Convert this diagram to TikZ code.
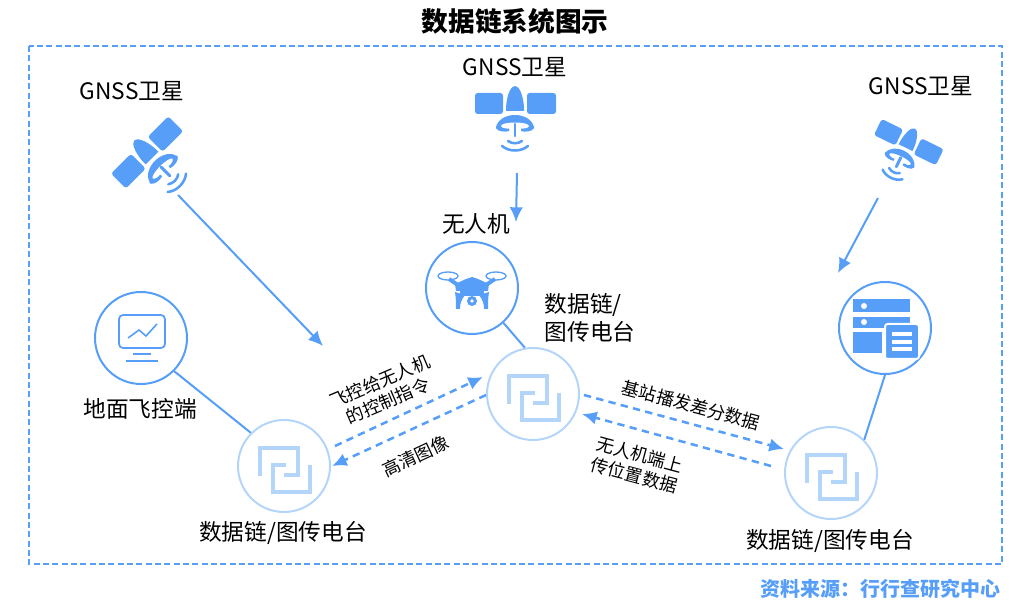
\documentclass[tikz,border=0pt]{standalone}
\usepackage{fontspec}
\setmainfont{Noto Sans CJK SC}
\usepackage{tikz}
\usetikzlibrary{arrows.meta}

\definecolor{linkblue}{HTML}{569EF8}
\definecolor{paleblue}{HTML}{B4D5FA}

\tikzset{
    lbl/.style={inner sep=0pt, align=center, font=\fontsize{17}{21}\selectfont},
    smalllbl/.style={inner sep=0pt, align=center, font=\fontsize{13.3}{16}\selectfont},
    hub/.style={circle, draw=linkblue, line width=1.5pt, minimum size=69pt, inner sep=0pt},
    radio/.style={circle, draw=paleblue, line width=1.5pt, minimum size=69pt, inner sep=0pt},
    wire/.style={draw=linkblue, line width=1.5pt},
    ray/.style={draw=linkblue, line width=1.5pt, -{Latex[length=11pt,width=10pt]}},
    flow/.style={draw=linkblue, line width=1.9pt, dash pattern=on 5.5pt off 4pt, -{Latex[length=11pt,width=10pt]}},
    satellite/.pic={
        \fill[linkblue, rounded corners=2pt] (-40,-25) rectangle (-12,-4);
        \fill[linkblue, rounded corners=2pt] (12,-25) rectangle (41,-4);
        \fill[linkblue] (-9,-7) -- (-9,-11) .. controls (-8,-24) and (-4,-32) .. (0,-32)
            .. controls (4,-32) and (8,-24) .. (9,-11) -- (9,-7) -- cycle;
        \fill[linkblue] (-19,10) .. controls (-18,1) and (-8,-3) .. (0,-3)
            .. controls (8,-3) and (18,1) .. (19,10) .. controls (17,14) and (10,14) .. (6,13)
            -- (6,9) -- (-6,9) -- (-6,13) .. controls (-10,14) and (-17,14) .. (-19,10) -- cycle;
        \fill[white] (0,8) ellipse (14 and 3.5);
        \fill[linkblue] (-19,10) .. controls (-17,13) and (-11,14) .. (-6,13) -- (-6,10.5)
            .. controls (-11,11) and (-15,11) .. (-19,8) -- cycle;
        \fill[linkblue] (19,10) .. controls (17,13) and (11,14) .. (6,13) -- (6,10.5)
            .. controls (11,11) and (15,11) .. (19,8) -- cycle;
        \draw[linkblue, line width=2.2pt, line cap=round] (0,6) -- (0,18);
        \draw[linkblue, line width=1.9pt, line cap=round] (-7,23) .. controls (-3,26) and (3,26) .. (7,23);
        \draw[linkblue, line width=1.9pt, line cap=round] (-13,28) .. controls (-6,34) and (6,34) .. (13,28);
    },
    linkmark/.pic={
        \draw[paleblue, line width=2.6pt] (-24,10) -- (-24,-18) -- (14,-18) -- (14,9) -- (0,9);
        \draw[paleblue, line width=2.6pt] (2,-1) -- (-11,-1) -- (-11,26) -- (26,26) -- (26,-1);
    },
}

\begin{document}
\begin{tikzpicture}[x=0.75pt, y=-0.75pt]
    \useasboundingbox (0,0) rectangle (1018,602);

    \node[inner sep=0pt, font=\fontsize{20}{24}\selectfont\bfseries] (title) at (515,21) {数据链系统图示};
    \draw[linkblue, line width=1.3pt, dash pattern=on 4.5pt off 2.5pt] (29,46) rectangle (1002,564);
    \node[anchor=east, inner sep=0pt, text=linkblue, font=\fontsize{15}{18}\selectfont\bfseries] (source) at (1001,589) {资料来源：行行查研究中心};

    \node[lbl] (gnss1) at (132,91) {GNSS卫星};
    \node[lbl] (gnss2) at (515,67) {GNSS卫星};
    \node[lbl] (gnss3) at (921,86) {GNSS卫星};
    \pic[rotate=45] at (157,163) {satellite};
    \pic at (515,118) {satellite};
    \pic[rotate=-26, scale=0.85] at (903,153) {satellite};

    \node[hub] (ground) at (141,338) {};
    \node[hub] (uav) at (472,288) {};
    \node[hub] (station) at (885,328) {};
    \node[radio] (radio1) at (284,466) {};
    \node[radio] (radio2) at (533,394) {};
    \node[radio] (radio3) at (831,473) {};
    \pic at (284,466) {linkmark};
    \pic at (533,394) {linkmark};
    \pic at (831,473) {linkmark};

    \draw[linkblue, line width=1.3pt, rounded corners=3pt] (119,315) rectangle (165,348);
    \draw[linkblue, line width=1.2pt] (128,338) -- (139,330) -- (146,336) -- (157,324);
    \draw[linkblue, line width=1.2pt] (133,354) -- (151,354);
    \draw[linkblue, line width=1.2pt] (126,361) -- (158,361);

    \draw[linkblue, line width=1pt] (448,276) ellipse (10 and 4);
    \draw[linkblue, line width=1pt] (496,276) ellipse (10 and 4);
    \draw[linkblue, line width=3pt] (449,279) -- (461,287);
    \draw[linkblue, line width=3pt] (495,279) -- (483,287);
    \fill[linkblue] (455,284) -- (466,279) -- (472,277) -- (478,279) -- (489,284) -- (488,291) -- (456,291) -- cycle;
    \fill[linkblue] (460,291) rectangle (484,296);
    \fill[linkblue] (455,292) .. controls (456,298) and (456,304) .. (456,309) -- (460,309) .. controls (460,304) and (461,300) .. (465,295) -- cycle;
    \fill[linkblue] (489,292) .. controls (488,298) and (488,304) .. (488,309) -- (484,309) .. controls (484,304) and (483,300) .. (479,295) -- cycle;
    \fill[linkblue] (472,301) circle (5);
    \fill[white] (472,301) circle (1.8);

    \fill[linkblue] (853,299) rectangle (910,312);
    \fill[linkblue] (853,317) rectangle (910,328);
    \fill[linkblue] (853,332) rectangle (882,353);
    \fill[white] (864,306) circle (3);
    \fill[white] (864,322) circle (3);
    \draw[white, line width=1.5pt, fill=linkblue, rounded corners=2pt] (885,324) rectangle (919,359);
    \fill[white] (892,332) rectangle (912,336);
    \fill[white] (892,340) rectangle (912,344);
    \fill[white] (892,347) rectangle (912,351);

    \node[lbl] (uavlabel) at (476,224) {无人机};
    \node[lbl] (groundlabel) at (140,409) {地面飞控端};
    \node[lbl] (radiolabel1) at (283,533) {数据链/图传电台};
    \node[lbl, align=left] (radiolabel2) at (590,318) {数据链/\\[0pt]图传电台};
    \node[lbl] (radiolabel3) at (830,541) {数据链/图传电台};

    \draw[wire] (ground.-45) -- (radio1.135);
    \draw[wire] (uav.-48) -- (radio2.100);
    \draw[wire] (station.-90) -- (radio3.45);

    \coordinate (ray1a) at (178,195);
    \coordinate (ray1b) at (323,346);
    \coordinate (ray2a) at (517,173);
    \coordinate (ray2b) at (516,222);
    \coordinate (ray3a) at (878,198);
    \coordinate (ray3b) at (838,273);
    \draw[ray] (ray1a) -- (ray1b);
    \draw[ray] (ray2a) -- (ray2b);
    \draw[ray] (ray3a) -- (ray3b);

    \coordinate (flow1a) at (335,446);
    \coordinate (flow1b) at (483,377);
    \coordinate (flow2a) at (486,395);
    \coordinate (flow2b) at (332,466);
    \coordinate (flow3a) at (584,395);
    \coordinate (flow3b) at (784,449);
    \coordinate (flow4a) at (771,466);
    \coordinate (flow4b) at (582,414);
    \draw[flow] (flow1a) -- (flow1b);
    \draw[flow] (flow2a) -- (flow2b);
    \draw[flow] (flow3a) -- (flow3b);
    \draw[flow] (flow4a) -- (flow4b);

    \node[smalllbl, rotate=23] (cmdlabel) at (384,391) {飞控给无人机\\的控制指令};
    \node[smalllbl, rotate=25] (videolabel) at (416,456) {高清图像};
    \node[smalllbl, rotate=-15] (difflabel) at (691,405) {基站播发差分数据};
    \node[smalllbl, rotate=-15] (poslabel) at (637,465) {无人机端上\\传位置数据};
\end{tikzpicture}
\end{document}
